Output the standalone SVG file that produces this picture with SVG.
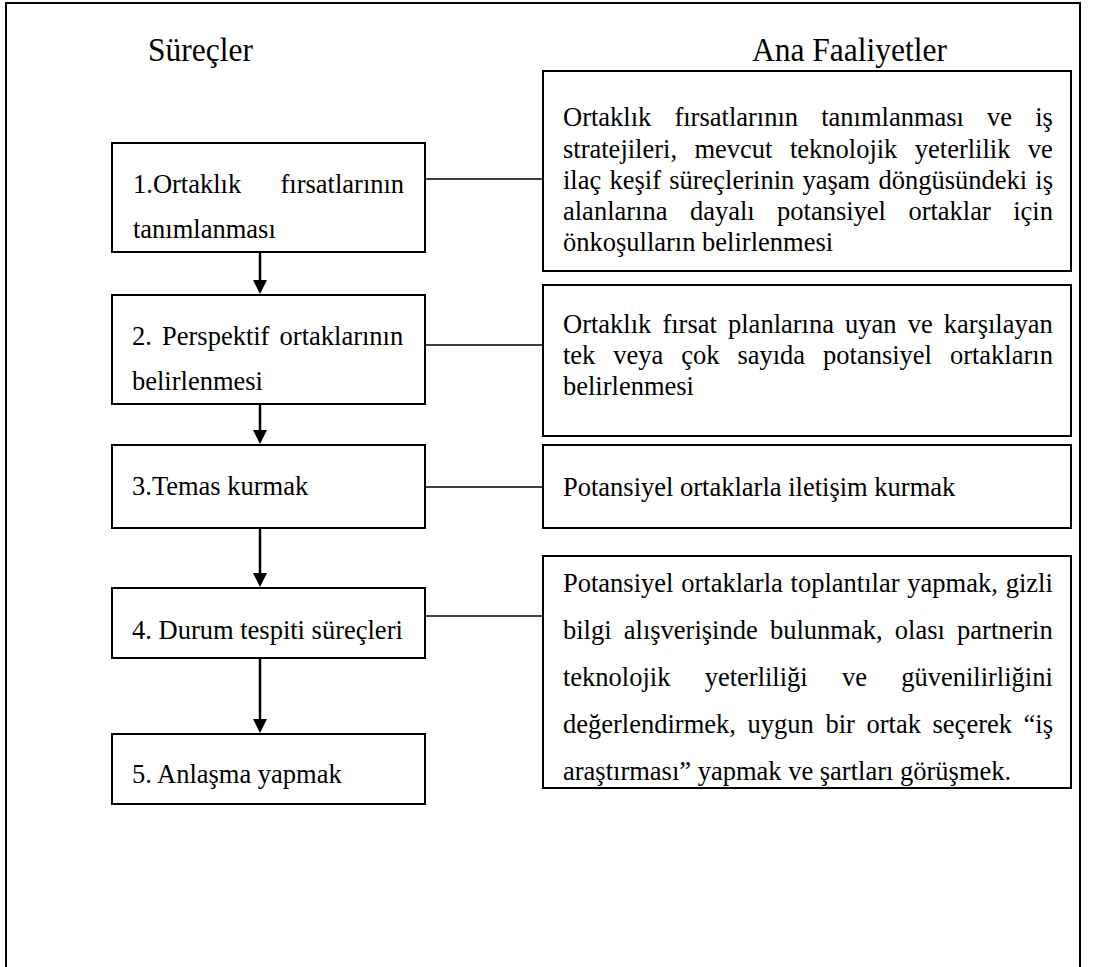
<svg xmlns="http://www.w3.org/2000/svg" width="1093" height="967" viewBox="0 0 1093 967" font-family="'Liberation Serif', 'Times New Roman', Tinos, serif">
<style>
  text { font-family: "Liberation Serif", "Times New Roman", Tinos, serif; fill: #000; }
  .t { font-size: 26.5px; }
  .title { font-size: 31.5px; }
  .box { fill: #fff; stroke: #000; stroke-width: 2; }
  .conn { stroke: #000; stroke-width: 1.6; fill: none; }
  .arr { stroke: #000; stroke-width: 2.5; fill: none; }
  .head { fill: #000; stroke: none; }
</style>
<rect width="1093" height="967" fill="#fff"/>
<path d="M6,970 L6,3 L1080,3 L1080,970" fill="none" stroke="#000" stroke-width="2"/>
<g id="titles" transform="scale(1,1.1)">
  <text class="title" x="148" y="55.5" font-family="Liberation Serif, serif">Süreçler</text>
  <text class="title" x="752" y="55.5" font-family="Liberation Serif, serif">Ana Faaliyetler</text>
</g>
<g id="connectors">
  <line class="conn" x1="425" y1="179" x2="543" y2="179"/>
  <line class="conn" x1="425" y1="345" x2="543" y2="345"/>
  <line class="conn" x1="425" y1="487" x2="543" y2="487"/>
  <line class="conn" x1="425" y1="616" x2="543" y2="616"/>
  <line class="arr" x1="260" y1="252" x2="260" y2="281"/>
  <path class="head" d="M253,280 L267,280 L260,294 Z"/>
  <line class="arr" x1="260" y1="404" x2="260" y2="431"/>
  <path class="head" d="M253,430 L267,430 L260,444 Z"/>
  <line class="arr" x1="260" y1="528" x2="260" y2="574"/>
  <path class="head" d="M253,573 L267,573 L260,587 Z"/>
  <line class="arr" x1="260" y1="658" x2="260" y2="720"/>
  <path class="head" d="M253,719 L267,719 L260,733 Z"/>
</g>
<g id="p1">
  <rect class="box" x="112" y="143" width="313" height="109"/>
  <text class="t" y="193"><tspan x="133">1.Ortaklık</tspan><tspan x="280.5">fırsatlarının</tspan></text>
  <text class="t" x="133" y="238">tanımlanması</text>
</g>
<g id="p2">
  <rect class="box" x="112" y="295" width="313" height="109"/>
  <text class="t" x="132" y="345" word-spacing="3.5">2. Perspektif ortaklarının</text>
  <text class="t" x="132" y="390">belirlenmesi</text>
</g>
<g id="p3">
  <rect class="box" x="112" y="445" width="313" height="83"/>
  <text class="t" x="132" y="495">3.Temas kurmak</text>
</g>
<g id="p4">
  <rect class="box" x="112" y="588" width="313" height="70"/>
  <text class="t" x="132" y="639">4. Durum tespiti süreçleri</text>
</g>
<g id="p5">
  <rect class="box" x="112" y="734" width="313" height="70"/>
  <text class="t" x="132" y="783">5. Anlaşma yapmak</text>
</g>
<g id="a1">
  <rect class="box" x="543" y="71" width="528" height="200"/>
  <text class="t" x="563" y="126" word-spacing="16.5">Ortaklık fırsatlarının tanımlanması ve iş</text>
  <text class="t" x="563" y="158" word-spacing="10.8">stratejileri, mevcut teknolojik yeterlilik ve</text>
  <text class="t" x="563" y="189" word-spacing="1.6">ilaç keşif süreçlerinin yaşam döngüsündeki iş</text>
  <text class="t" x="563" y="220" word-spacing="15.8">alanlarına dayalı potansiyel ortaklar için</text>
  <text class="t" x="563" y="251">önkoşulların belirlenmesi</text>
</g>
<g id="a2">
  <rect class="box" x="543" y="285" width="528" height="151"/>
  <text class="t" x="563" y="333" word-spacing="4.5">Ortaklık fırsat planlarına uyan ve karşılayan</text>
  <text class="t" x="563" y="364" word-spacing="11.3">tek veya çok sayıda potansiyel ortakların</text>
  <text class="t" x="563" y="395">belirlenmesi</text>
</g>
<g id="a3">
  <rect class="box" x="543" y="445" width="528" height="83"/>
  <text class="t" x="563" y="496">Potansiyel ortaklarla iletişim kurmak</text>
</g>
<g id="a4">
  <rect class="box" x="543" y="556" width="528" height="232"/>
  <text class="t" x="563" y="592" word-spacing="1.2">Potansiyel ortaklarla toplantılar yapmak, gizli</text>
  <text class="t" x="563" y="639" word-spacing="5.6">bilgi alışverişinde bulunmak, olası partnerin</text>
  <text class="t" x="563" y="686" word-spacing="27.6">teknolojik yeterliliği ve güvenilirliğini</text>
  <text class="t" x="563" y="733" word-spacing="5">değerlendirmek, uygun bir ortak seçerek “iş</text>
  <text class="t" x="563" y="780">araştırması” yapmak ve şartları görüşmek.</text>
</g>
</svg>
